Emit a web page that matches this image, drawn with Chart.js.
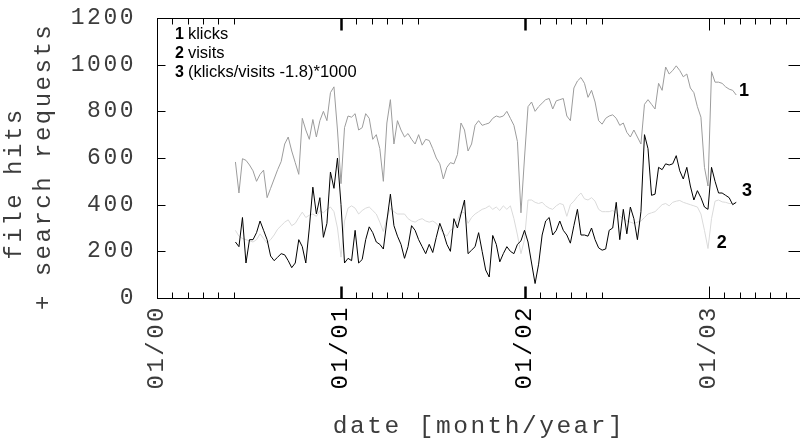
<!DOCTYPE html>
<html><head><meta charset="utf-8">
<script src="https://cdn.jsdelivr.net/npm/chart.js@4.4.0/dist/chart.umd.min.js"></script>
<style>
html,body{margin:0;padding:0;background:#fff;overflow:hidden;}
#wrap{position:relative;width:804px;height:443px;}
</style></head><body>
<div id="wrap"><canvas id="c"></canvas></div>
<script>
// weekly samples, first week starting on this date
const firstWeek = '2000-06-05';

const klicks = [583,450,597,590,570,545,500,530,548,430,470,510,550,585,660,690,630,580,530,770,
720,680,765,690,760,800,760,880,905,720,490,730,780,775,790,720,730,790,770,680,
700,640,500,750,850,660,760,720,690,705,680,660,700,655,680,675,640,600,575,510,
560,580,575,615,750,720,630,660,740,760,740,745,750,770,780,775,780,800,770,740,
670,365,600,820,840,800,820,835,850,855,810,845,850,855,780,760,900,930,945,920,
860,890,840,760,745,770,780,785,770,740,750,710,690,720,690,660,830,850,830,810,
920,890,990,960,975,995,975,948,960,900,880,820,775,560,480,970,925,925,920,905,
895,890,870];

const visits = [290,265,255,250,245,240,250,275,255,235,250,270,295,310,325,335,310,320,345,368,
345,355,360,350,375,365,380,390,370,300,175,330,385,395,385,360,375,385,390,375,
360,325,285,340,385,370,360,360,360,340,330,325,335,340,330,325,330,320,300,275,
265,290,300,335,370,365,320,345,360,370,380,385,395,380,390,375,395,380,395,340,
270,190,250,420,420,410,405,410,395,385,380,395,405,400,350,400,415,435,450,425,
420,430,415,380,370,370,370,375,365,350,340,330,325,320,325,330,345,360,365,370,
385,400,405,395,410,415,418,410,405,400,395,390,360,290,212,340,415,420,412,410,
405,405,410];

const ratio = [240,220,345,150,250,250,280,330,290,250,180,160,175,190,185,160,130,150,250,220,
150,300,475,360,430,260,320,540,470,600,400,150,170,160,290,150,165,250,305,280,
240,230,210,330,445,310,265,230,170,220,310,290,250,220,190,230,195,260,320,280,
230,200,340,300,360,420,190,205,220,280,200,120,90,268,230,155,190,220,200,190,
230,245,290,240,150,62,145,270,330,345,270,290,330,290,270,235,310,380,270,270,
265,300,250,215,205,210,290,300,410,250,380,275,390,340,250,370,700,640,440,445,
560,550,575,570,575,610,545,510,560,480,420,460,430,390,380,560,500,450,450,440,
430,400,410];

const yearTicks = [2000, 2001, 2002, 2003];
const yearLabels = ['01/00', '01/01', '01/02', '01/03'];
const minorMonths = [1, 2, 3, 4, 5];
const boldYears = [2001, 2002];
const seriesNames = ['klicks', 'visits', '(klicks/visits -1.8)*1000'];
const seriesNumbers = ['1', '2', '3'];
const endLabels = [
  {text: '1', x: 2003.19, y: 891},
  {text: '2', x: 2003.07, y: 242},
  {text: '3', x: 2003.207, y: 461}
];
const yTitle = ['file hits   ', '+ search requests '];
const xTitle = 'date [month/year]';

function toYear(d) {
  const y = d.getUTCFullYear();
  const a = Date.UTC(y, 0, 1), b = Date.UTC(y + 1, 0, 1);
  return y + (d.getTime() - a) / (b - a);
}
const start = new Date(firstWeek + 'T00:00:00Z');
const xs = klicks.map((_, i) => toYear(new Date(start.getTime() + i * 7 * 86400000)));
const pts = arr => arr.map((v, i) => ({x: xs[i], y: v}));

const tickValues = [];
yearTicks.forEach(y => { tickValues.push(y); minorMonths.forEach(m => tickValues.push(y + m / 12)); });

const MONO = "'Liberation Mono', 'DejaVu Sans Mono', monospace";
const SANS = "'Liberation Sans', Arial, sans-serif";
const TXT = '#3c3c3c';

function noPad(s) { s.paddingLeft = 0; s.paddingRight = 0; s.paddingTop = 0; s.paddingBottom = 0; }

const decor = {
  id: 'decor',
  beforeDraw(chart) { chart.ctx.letterSpacing = '2.5px'; },
  afterDatasetsDraw(chart) {
    const {ctx, chartArea: a, scales: {x, y}} = chart;
    ctx.save();
    ctx.letterSpacing = '0px';
    ctx.strokeStyle = '#000';
    ctx.lineWidth = 1;
    const L = Math.round(a.left) + 0.5, T = Math.round(a.top) + 0.5;
    const R = Math.round(a.right) + 0.5, B = Math.round(a.bottom) + 0.5;
    ctx.strokeRect(L, T, R - L, B - T);
    x.ticks.forEach(t => {
      const px = Math.round(x.getPixelForValue(t.value)) + 0.5;
      const major = yearTicks.includes(t.value);
      const len = major ? 12 : 6;
      ctx.lineWidth = boldYears.includes(t.value) ? 2.5 : 1;
      ctx.beginPath();
      ctx.moveTo(px, B); ctx.lineTo(px, B - len);
      ctx.moveTo(px, T); ctx.lineTo(px, T + len);
      ctx.stroke();
    });
    ctx.lineWidth = 1;
    y.ticks.forEach(t => {
      const py = Math.round(y.getPixelForValue(t.value)) + 0.5;
      ctx.beginPath();
      ctx.moveTo(L, py); ctx.lineTo(L + 8, py);
      ctx.moveTo(R, py); ctx.lineTo(R - 13, py);
      ctx.stroke();
    });
    // key text
    ctx.fillStyle = '#000';
    ctx.textBaseline = 'alphabetic';
    ctx.textAlign = 'left';
    const baselines = [39, 57.5, 76.5];
    seriesNames.forEach((name, i) => {
      ctx.font = 'bold 16px ' + SANS;
      ctx.fillText(seriesNumbers[i], 175, baselines[i]);
      const w = ctx.measureText(seriesNumbers[i]).width;
      ctx.font = '16.5px ' + SANS;
      ctx.fillText(name, 175 + w + 4, baselines[i]);
    });
    // curve labels
    ctx.font = 'bold 18px ' + SANS;
    ctx.textAlign = 'center';
    ctx.textBaseline = 'middle';
    endLabels.forEach(l => {
      ctx.fillText(l.text, x.getPixelForValue(l.x), y.getPixelForValue(l.y) + 1);
    });
    ctx.restore();
  }
};

new Chart(document.getElementById('c'), {
  type: 'line',
  data: {
    datasets: [
      {label: seriesNames[2], data: pts(ratio), borderColor: '#000', borderWidth: 1, pointRadius: 0, tension: 0, order: 0},
      {label: seriesNames[0], data: pts(klicks), borderColor: '#9c9c9c', borderWidth: 1, pointRadius: 0, tension: 0, order: 1},
      {label: seriesNames[1], data: pts(visits), borderColor: '#dadada', borderWidth: 1, pointRadius: 0, tension: 0, order: 2}
    ]
  },
  options: {
    responsive: true,
    maintainAspectRatio: false,
    devicePixelRatio: 1,
    animation: false,
    layout: {padding: {top: 18, right: 3, left: 0, bottom: 0}},
    plugins: {legend: {display: false}, tooltip: {enabled: false}},
    scales: {
      x: {
        type: 'linear', min: 2000, max: 2003.5,
        afterBuildTicks(s) { s.ticks = tickValues.map(v => ({value: v})); },
        afterFit(s) { s.height = 145; noPad(s); },
        grid: {display: false, drawTicks: false},
        border: {display: false},
        ticks: {
          autoSkip: false, minRotation: 90, maxRotation: 90, padding: 7,
          color: c => (c.tick && boldYears.includes(c.tick.value)) ? '#000' : TXT,
          font: {family: MONO, size: 24},
          callback: v => { const i = yearTicks.indexOf(v); return i >= 0 ? yearLabels[i] : ''; }
        },
        title: {display: true, text: xTitle, color: TXT, font: {family: MONO, size: 24.5, lineHeight: 1.2}, padding: {top: 0, bottom: 2}}
      },
      y: {
        min: 0, max: 1200,
        afterFit(s) { s.width = 157; noPad(s); },
        grid: {display: false, drawTicks: false},
        border: {display: false},
        ticks: {stepSize: 200, padding: 21, color: TXT, font: {family: MONO, size: 23}, callback: v => String(v)},
        title: {display: true, text: yTitle, color: TXT, font: {family: MONO, size: 24, lineHeight: 1.2}, padding: {top: 0, bottom: 0}}
      }
    }
  },
  plugins: [decor]
});
</script>
</body></html>
